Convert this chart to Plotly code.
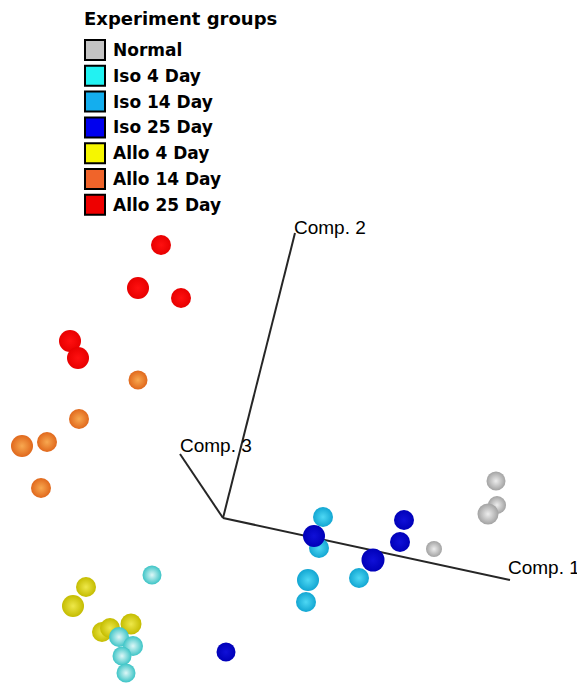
import plotly.graph_objects as go

# ---- data: projected positions of samples (screen-projected PCA coordinates) ----
groups = ["Normal", "Iso 4 Day", "Iso 14 Day", "Iso 25 Day", "Allo 4 Day", "Allo 14 Day", "Allo 25 Day"]

normal_x = [496, 497, 488, 434]
normal_y = [481, 505, 514, 549]
normal_d = [19, 18, 21, 16]

iso4_x = [152, 119, 133, 122, 126]
iso4_y = [575, 637, 646, 656, 673]
iso4_d = [19, 20, 20, 19, 19]

iso14_x = [323, 319, 308, 306, 359]
iso14_y = [517, 548, 580, 602, 578]
iso14_d = [20, 20, 22, 20, 20]

iso25_x = [314, 404, 400, 373, 226]
iso25_y = [536, 520, 542, 560, 652]
iso25_d = [22, 20, 20, 23, 19]

allo4_x = [86, 73, 102, 110, 131]
allo4_y = [587, 606, 632, 628, 624]
allo4_d = [20, 22, 20, 20, 21]

allo14_x = [138, 79, 22, 47, 41]
allo14_y = [380, 419, 446, 442, 488]
allo14_d = [19, 20, 22, 20, 20]

allo25_x = [161, 138, 181, 70, 78]
allo25_y = [245, 288, 298, 341, 358]
allo25_d = [20, 22, 20, 22, 22]

# component axes (origin and tips in the same projected coordinates)
axis_names = ["Comp. 1", "Comp. 2", "Comp. 3"]
axis_origin = (223, 518)
axis_tip_x = [510, 295, 180]
axis_tip_y = [580, 233, 454]

# ---- styles ----
legend_colors = ["#C4C4C4", "#22F2F2", "#14AEEE", "#0000EE", "#F6F600", "#F0642A", "#EE0000"]
sphere_center = ["#EDEDED", "#DDF7F7", "#4ED8F4", "#1010D8", "#EEE84A", "#F8A850", "#FF1010"]
sphere_edge = ["#A2A2A2", "#3CC4C6", "#12A6D2", "#0000B8", "#C4BC00", "#E0681C", "#E80000"]

series = [
    (normal_x, normal_y, normal_d),
    (iso4_x, iso4_y, iso4_d),
    (iso14_x, iso14_y, iso14_d),
    (iso25_x, iso25_y, iso25_d),
    (allo4_x, allo4_y, allo4_d),
    (allo14_x, allo14_y, allo14_d),
    (allo25_x, allo25_y, allo25_d),
]

fig = go.Figure()

# axes lines
for name, tx, ty in zip(axis_names, axis_tip_x, axis_tip_y):
    fig.add_trace(go.Scatter(
        x=[axis_origin[0], tx], y=[axis_origin[1], ty], mode="lines",
        line=dict(color="#262626", width=2), showlegend=False, hoverinfo="skip"))

draw_order = [5, 6, 4, 1, 2, 3, 0]
for i in draw_order:
    xs, ys, ds = series[i]
    fig.add_trace(go.Scatter(
        x=xs, y=ys, mode="markers", name=groups[i], showlegend=False,
        marker=dict(size=ds, color=sphere_edge[i], opacity=1, line=dict(width=0),
                    gradient=dict(type="radial", color=sphere_center[i]))))

# axis labels
label_pos = [(582, 567, "right"), (292, 227, "left"), (178, 445, "left")]
for name, (lx, ly, anc) in zip(axis_names, label_pos):
    fig.add_annotation(x=lx, y=ly, text=name, showarrow=False, xanchor=anc, yanchor="middle",
                       font=dict(family="Liberation Sans, Arial", size=19, color="black"))

# legend (manual, in pixel-like data coords)
fig.add_annotation(x=82, y=18, text="<b>Experiment groups</b>", showarrow=False,
                   xanchor="left", yanchor="middle",
                   font=dict(family="DejaVu Sans", size=18, color="black"))
for k, (g, c) in enumerate(zip(groups, legend_colors)):
    cy = 50 + k * 25.8
    fig.add_shape(type="rect", x0=85, x1=105, y0=cy - 10, y1=cy + 10,
                  fillcolor=c, line=dict(color="black", width=2))
    fig.add_annotation(x=111, y=cy, text="<b>" + g + "</b>", showarrow=False,
                       xanchor="left", yanchor="middle",
                       font=dict(family="DejaVu Sans", size=17, color="black"))

# the page places the figure 8px in from the top-left corner
off = 8
fig.update_layout(
    width=585 - off, height=686 - off,
    margin=dict(l=0, r=0, t=0, b=0),
    paper_bgcolor="white", plot_bgcolor="white",
    xaxis=dict(range=[off, 585], visible=False, fixedrange=True),
    yaxis=dict(range=[686, off], visible=False, fixedrange=True),
)

fig.write_html("out.html")
